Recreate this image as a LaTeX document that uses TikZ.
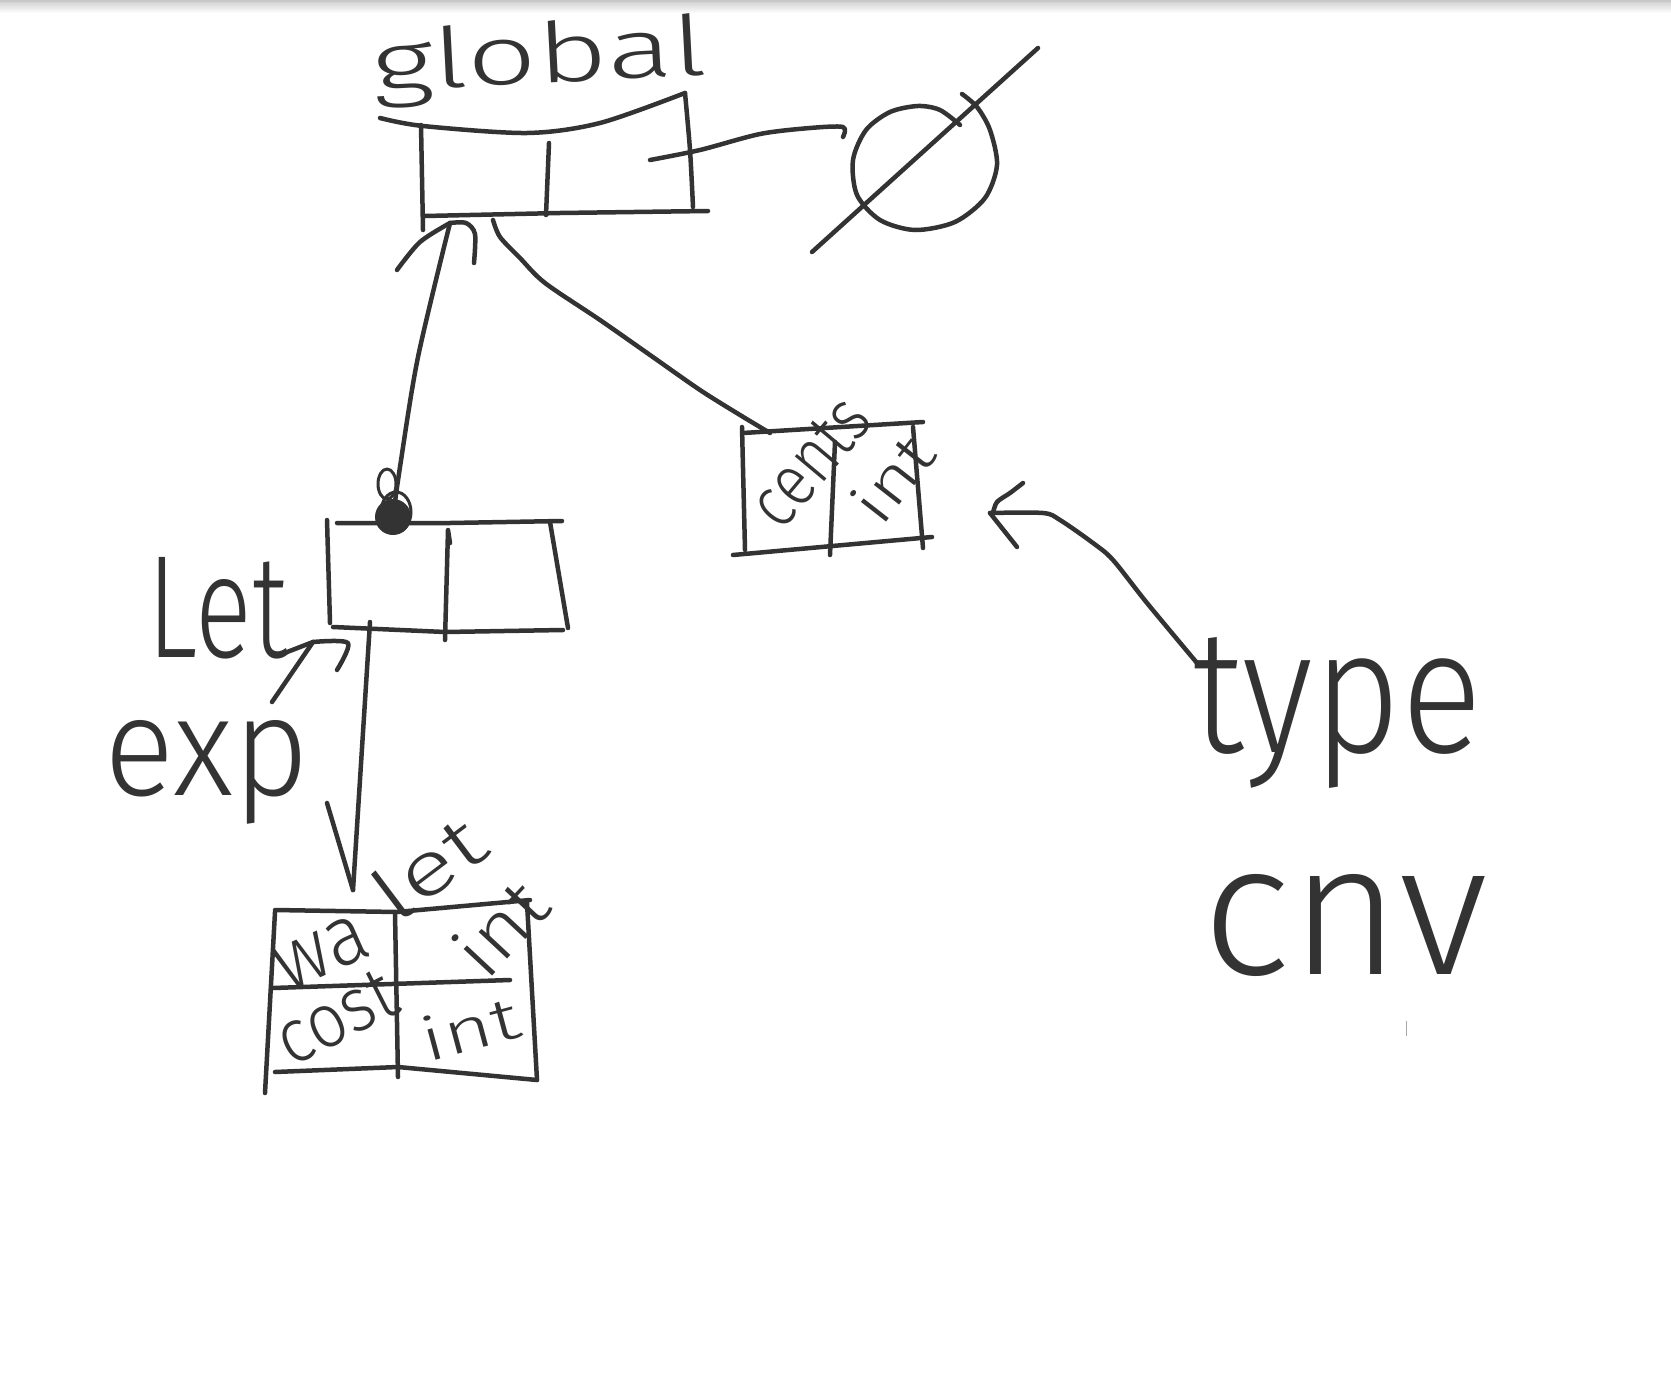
\documentclass[tikz,border=0pt]{standalone}
\usepackage{fontspec}
\newfontfamily\handfont{Fira Sans Light}
\definecolor{ink}{HTML}{333333}
\newcommand\handword[3]{\resizebox{#1pt}{#2pt}{\handfont #3}}
\tikzset{
  stroke/.style={draw=ink,line width=4.5pt,line cap=round,line join=round},
  word/.style={inner sep=0pt,outer sep=0pt,text=ink}
}
\begin{document}
\begin{tikzpicture}[x=1pt,y=-1pt]
\useasboundingbox (0,0) rectangle (1671,1400);
\fill[white] (0,0) rectangle (1671,1400);
\shade[top color=black!20,bottom color=white] (0,0) rectangle (1671,13);
\fill[black!22] (0,0) rectangle (1671,2);

% ---------- texts ----------
\node[word,rotate=3,anchor=base west] (tglobal) at (373,92) {\handword{335}{62}{global}};
\node[word,anchor=center] (tLet) at (218,608) {\handword{140}{100}{Let}};
\node[word,anchor=base west] (texp) at (104,795) {\handword{205}{75}{exp}};
\node[word,rotate=37,anchor=center] (tlet) at (428,867) {\handword{120}{56}{let}};
\node[word,rotate=24,anchor=center] (twa) at (322,953) {\handword{95}{45}{wa}};
\node[word,rotate=47,anchor=center] (tint1) at (500,927) {\handword{100}{56}{int}};
\node[word,rotate=27,anchor=center] (tcost) at (336,1017) {\handword{125}{50}{cost}};
\node[word,rotate=15,anchor=center] (tint2) at (470,1028) {\handword{100}{45}{int}};
\node[word,rotate=50,anchor=center] (tcents) at (810,462) {\handword{145}{48}{cents}};
\node[word,rotate=52,anchor=center] (tint3) at (892,478) {\handword{92}{46}{int}};
\node[word,anchor=base west] (ttype) at (1192,752) {\handword{290}{115}{type}};
\node[word,anchor=center] (tcnv) at (1345,925) {\handword{285}{100}{cnv}};

% ---------- global box ----------
\draw[stroke] plot[smooth] coordinates {(380,118) (423,126) (527,133) (600,123) (685,93)};
\draw[stroke] (421,125) -- (423,230);
\draw[stroke] plot[smooth] coordinates {(685,93) (690,150) (693,207)};
\draw[stroke] (425,216) -- (560,213) -- (708,211);
\draw[stroke] (549,143) -- (546,215);
\coordinate (gR) at (650,160);
\coordinate (gL) at (450,223);
\coordinate (gM) at (493,220);

% ---------- empty set ----------
\coordinate (empty) at (843,127);
\draw[stroke] plot[smooth] coordinates {(960,125) (940,110) (918,106) (890,112) (866,130) (853,160) (857,195) (880,220) (915,230) (955,222) (985,198) (997,165) (990,130) (977,107) (962,94)};
\draw[stroke] (812,252) -- (1038,48);
\draw[stroke] plot[smooth] coordinates {(gR) (700,150) (760,134) (810,128) (empty) (843,137)};

% ---------- Let box ----------
\draw[stroke] (327,520) -- (330,623);
\draw[stroke] (337,523) -- (450,523) -- (562,521);
\draw[stroke] (550,522) -- (568,628);
\draw[stroke] (333,627) -- (445,632) -- (563,630);
\draw[stroke] (450,543) -- (448,530) -- (445,640);
\coordinate (letTop) at (393,517);
\coordinate (letBot) at (370,622);
\coordinate (letCorner) at (313,642);

% connector global -> Let box
\draw[stroke] plot[smooth] coordinates {(gL) (418,357) (400,467) (letTop)};
\draw[stroke] plot[smooth] coordinates {(397,270) (420,242) (gL)};
\draw[stroke] plot[smooth] coordinates {(gL) (466,223) (475,234) (474,263)};
\fill[ink] (letTop) circle (18);
\draw[stroke,line width=3pt] (396,512) ellipse (15 and 20);
\draw[stroke,line width=3pt] (387,484) ellipse (9 and 15);

% connector global -> cents box
\coordinate (centTop) at (770,433);
\draw[stroke] plot[smooth] coordinates {(gM) (500,237) (520,258) (545,283) (600,320) (650,355) (700,390) (740,415) (centTop)};

% exp -> Let arrow
\coordinate (expTip) at (272,702);
\draw[stroke] (expTip) -- (letCorner);
\draw[stroke] (282,654) -- (letCorner);
\draw[stroke] plot[smooth] coordinates {(letCorner) (348,643) (337,670)};

% ---------- wallet box ----------
\coordinate (walTop) at (353,890);
\draw[stroke] (letBot) -- (walTop);
\draw[stroke] (327,803) -- (walTop);
\draw[stroke] (275,910) -- (397,912) -- (530,900);
\draw[stroke] (275,912) -- (265,1093);
\draw[stroke] (273,988) -- (510,980);
\draw[stroke] (527,903) -- (537,1080);
\draw[stroke] (275,1072) -- (398,1067) -- (537,1080);
\draw[stroke] (395,913) -- (398,1077);

% ---------- cents box ----------
\draw[stroke] (743,433) -- (923,422);
\draw[stroke] (742,427) -- (745,550);
\draw[stroke] (913,427) -- (923,548);
\draw[stroke] (733,555) -- (932,537);
\draw[stroke] (835,442) -- (830,555);

% ---------- type cnv arrow ----------
\coordinate (typeStart) at (1197,663);
\coordinate (centTip) at (990,513);
\draw[stroke] plot[smooth] coordinates {(typeStart) (1147,603) (1113,560) (1093,543) (1060,520) (1043,513) (centTip)};
\draw[stroke] plot[smooth] coordinates {(1023,483) (1010,493) (997,502) (993,513)};
\draw[stroke] (1017,547) -- (centTip);

\draw[black!35,line width=1pt] (1406,1021) -- (1406,1036);
\end{tikzpicture}
\end{document}
